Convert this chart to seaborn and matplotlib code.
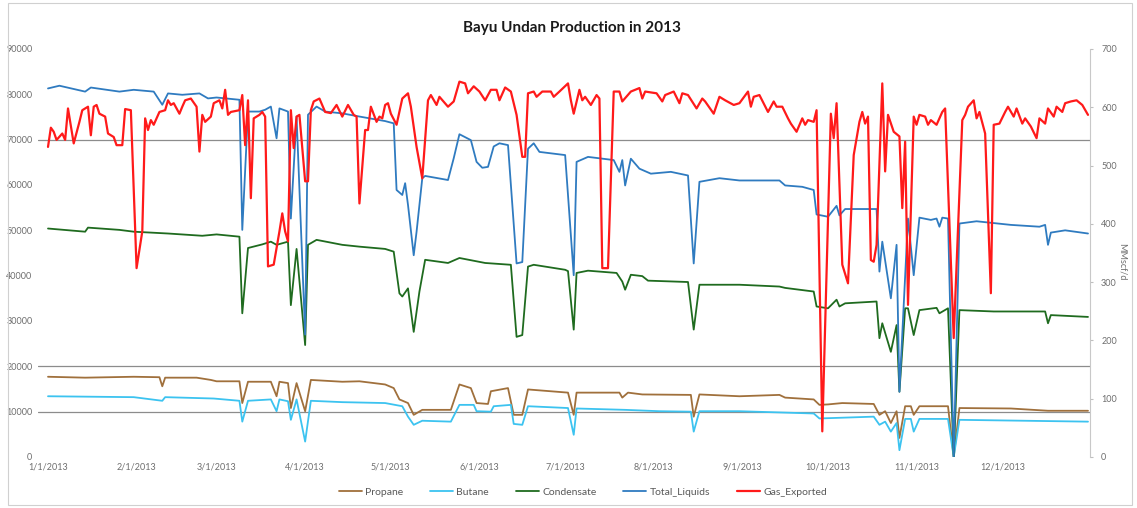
import numpy as np
import pandas as pd
import seaborn as sns
import matplotlib.pyplot as plt
from matplotlib.patches import Rectangle

# Daily production (day of year 2013, values)
# liquids in thousand bbl/d on the left axis, gas in MMscf/d on the right axis
start = pd.Timestamp("2013-01-01")

propane_days = [0, 13, 30, 39, 40, 41, 52, 57, 59, 67, 68, 70, 78, 80, 81, 84, 85, 87, 90, 92,
                103, 109, 118, 121, 123, 126, 128, 131, 141, 144, 148, 150, 154, 155, 161, 163,
                166, 168, 182, 184, 185, 200, 201, 203, 208, 225, 226, 228, 242, 256, 258, 268,
                270, 273, 278, 289, 291, 293, 295, 297, 298, 300, 302, 303, 305, 315, 317, 319,
                337, 350, 364]
propane_k = [17.7, 17.5, 17.7, 17.6, 15.6, 17.5, 17.5, 17.0, 16.7, 16.7, 11.9, 16.6, 16.6, 13.4,
             16.6, 16.3, 10.8, 16.3, 10.1, 17.0, 16.6, 16.7, 16.0, 15.2, 12.7, 11.9, 9.3, 10.4,
             10.4, 16.0, 15.2, 11.9, 11.7, 14.5, 15.2, 9.3, 9.3, 14.9, 14.2, 9.3, 14.2, 14.2,
             13.1, 14.2, 13.8, 13.7, 8.9, 13.8, 13.4, 13.7, 13.1, 12.7, 11.5, 11.6, 11.9, 11.7,
             9.3, 10.1, 7.5, 10.1, 4.2, 11.2, 11.2, 9.3, 11.2, 11.2, 0.0, 10.8, 10.7, 10.2, 10.2]

butane_days = [0, 30, 40, 41, 58, 67, 68, 70, 78, 80, 81, 84, 85, 87, 90, 92, 103, 118, 124, 126,
               128, 131, 141, 144, 149, 150, 155, 156, 162, 163, 166, 168, 182, 184, 185, 202,
               214, 225, 226, 228, 242, 268, 270, 289, 291, 293, 295, 297, 298, 300, 302, 303,
               305, 315, 317, 319, 364]
butane_k = [13.4, 13.2, 12.4, 13.2, 12.9, 12.4, 7.8, 12.4, 12.7, 10.1, 12.7, 12.3, 8.2, 12.7, 3.4,
            12.4, 12.1, 11.9, 11.2, 8.9, 7.1, 8.0, 7.8, 11.5, 11.5, 10.1, 10.0, 11.2, 11.5, 7.3,
            7.1, 11.2, 10.8, 4.9, 10.7, 10.4, 10.1, 10.0, 5.6, 10.1, 10.1, 9.6, 8.5, 8.9, 7.1,
            7.8, 5.6, 7.5, 1.5, 8.4, 8.4, 5.6, 8.4, 8.4, 0.0, 8.2, 7.8]

condensate_days = [0, 13, 14, 25, 30, 42, 54, 59, 67, 68, 70, 75, 78, 80, 84, 85, 87, 90, 91, 94,
                   103, 109, 118, 121, 123, 124, 126, 128, 130, 132, 140, 144, 153, 162, 164,
                   166, 168, 170, 181, 182, 184, 185, 189, 199, 201, 202, 204, 208, 210, 224,
                   226, 228, 242, 256, 258, 268, 269, 273, 276, 277, 279, 290, 291, 292, 295,
                   297, 298, 300, 301, 303, 305, 311, 312, 315, 317, 319, 331, 349, 350, 351, 364]
condensate_k = [50.4, 49.7, 50.6, 50.1, 49.7, 49.3, 48.8, 49.1, 48.6, 31.7, 46.1, 46.9, 47.5, 46.8,
                47.5, 33.5, 45.9, 24.7, 46.8, 47.9, 46.8, 46.4, 45.9, 45.3, 36.1, 35.4, 37.2, 27.6,
                36.5, 43.5, 42.8, 43.9, 42.8, 42.4, 26.5, 26.9, 42.0, 42.4, 41.3, 41.0, 28.1, 40.6,
                41.1, 40.6, 38.7, 36.9, 40.2, 39.9, 38.9, 38.6, 28.1, 38.0, 38.0, 37.6, 37.3, 36.5,
                33.2, 32.8, 34.7, 33.2, 33.9, 34.3, 26.2, 29.5, 23.2, 29.1, 14.4, 32.8, 32.8, 26.9,
                32.4, 32.9, 31.7, 32.8, 0.0, 32.4, 32.1, 32.1, 29.5, 31.3, 30.9]

liquids_days = [0, 4, 13, 15, 25, 30, 37, 40, 42, 47, 53, 56, 59, 67, 68, 70, 74, 76, 78, 80, 81,
                84, 85, 87, 90, 91, 94, 97, 103, 109, 118, 121, 122, 124, 125, 126, 128, 129,
                131, 132, 140, 142, 144, 148, 150, 152, 154, 156, 158, 161, 164, 166, 168, 170,
                172, 181, 184, 185, 189, 198, 200, 201, 202, 204, 207, 211, 218, 224, 226, 228,
                235, 242, 245, 256, 258, 264, 268, 269, 273, 276, 277, 279, 290, 291, 292, 295,
                297, 298, 301, 303, 305, 309, 311, 312, 313, 315, 317, 319, 325, 337, 347, 349,
                350, 351, 356, 364]
liquids_k = [81.3, 81.9, 80.6, 81.5, 80.6, 81.0, 80.6, 77.7, 80.2, 79.9, 80.2, 79.1, 79.3, 78.8,
             50.1, 76.2, 76.2, 76.6, 77.3, 70.3, 76.9, 76.2, 52.6, 75.1, 27.0, 75.5, 77.3, 76.2,
             75.8, 75.1, 74.1, 73.6, 58.9, 57.8, 60.4, 55.6, 44.5, 49.7, 61.5, 62.0, 61.1, 65.9,
             71.2, 69.9, 65.1, 63.8, 64.0, 68.5, 69.2, 68.8, 42.7, 43.0, 68.0, 69.2, 67.3, 66.6,
             40.1, 65.1, 66.2, 65.5, 62.9, 65.5, 59.9, 65.8, 63.6, 62.5, 62.9, 62.1, 42.7, 60.7,
             61.5, 61.0, 61.0, 61.0, 59.9, 59.6, 58.9, 53.5, 53.0, 55.4, 53.3, 54.7, 54.7, 40.9,
             47.5, 35.0, 46.8, 14.4, 52.6, 40.1, 52.8, 52.3, 52.6, 50.8, 52.8, 52.6, 0.0, 51.5,
             52.0, 51.2, 50.8, 51.2, 46.8, 49.5, 50.0, 49.3]

gas_days = [0, 1, 2, 3, 5, 6, 7, 9, 11, 12, 14, 15, 16, 17, 18, 20, 21, 23, 24, 26, 27, 29, 31, 33,
            34, 35, 36, 37, 39, 41, 42, 43, 44, 46, 47, 48, 50, 52, 53, 54, 55, 57, 58, 60, 61,
            62, 63, 64, 67, 68, 69, 70, 71, 72, 74, 75, 76, 77, 79, 81, 82, 83, 84, 85, 86, 87,
            88, 90, 91, 92, 93, 95, 97, 99, 101, 103, 105, 107, 108, 109, 111, 112, 113, 115,
            116, 117, 118, 119, 120, 122, 124, 126, 127, 129, 131, 133, 134, 136, 137, 140, 142,
            144, 146, 147, 149, 151, 153, 155, 157, 158, 160, 162, 164, 166, 167, 168, 170, 171,
            173, 176, 177, 179, 182, 183, 184, 186, 187, 188, 190, 192, 193, 194, 196, 198, 200,
            201, 204, 207, 208, 209, 213, 215, 216, 219, 221, 222, 224, 227, 229, 230, 233, 235,
            237, 240, 242, 245, 246, 247, 249, 252, 254, 255, 257, 259, 260, 262, 264, 265, 266,
            268, 269, 271, 274, 275, 276, 278, 280, 282, 284, 285, 286, 287, 288, 289, 290, 292,
            293, 294, 296, 298, 299, 300, 301, 303, 304, 305, 307, 308, 309, 311, 313, 314, 317,
            320, 321, 322, 324, 325, 326, 328, 330, 331, 333, 335, 336, 338, 339, 341, 342, 344,
            346, 347, 349, 350, 352, 353, 355, 356, 358, 360, 362, 364]
gas_mmscfd = [532, 565, 558, 544, 555, 544, 598, 538, 575, 595, 601, 552, 601, 604, 589, 584, 555,
              549, 535, 535, 597, 595, 324, 387, 581, 561, 578, 570, 592, 595, 612, 604, 607, 589,
              601, 612, 615, 601, 524, 587, 575, 584, 607, 612, 598, 630, 587, 592, 595, 621, 535,
              612, 444, 581, 587, 592, 584, 327, 330, 387, 418, 387, 370, 595, 530, 584, 587, 473,
              473, 595, 610, 615, 592, 590, 604, 584, 604, 587, 584, 435, 561, 561, 601, 575, 584,
              581, 604, 607, 589, 570, 615, 624, 601, 532, 478, 612, 621, 604, 618, 601, 610, 644,
              641, 624, 636, 627, 612, 630, 630, 612, 634, 627, 587, 515, 515, 624, 627, 618, 627,
              627, 618, 627, 641, 612, 589, 630, 612, 618, 604, 621, 615, 324, 324, 627, 627, 610,
              627, 633, 615, 627, 624, 610, 621, 627, 607, 624, 621, 598, 615, 610, 589, 618, 612,
              604, 607, 627, 601, 618, 621, 592, 610, 601, 601, 581, 572, 558, 581, 570, 578, 575,
              595, 44, 589, 547, 607, 330, 298, 518, 575, 592, 572, 584, 338, 335, 364, 641, 490,
              587, 558, 550, 427, 541, 261, 584, 570, 587, 584, 570, 578, 570, 592, 598, 204, 578,
              587, 601, 612, 581, 592, 555, 281, 570, 572, 592, 601, 584, 598, 572, 581, 567, 547,
              581, 572, 598, 584, 601, 592, 607, 610, 612, 604, 587]

month_labels = ["1/1/2013", "2/1/2013", "3/1/2013", "4/1/2013", "5/1/2013", "6/1/2013",
                "7/1/2013", "8/1/2013", "9/1/2013", "10/1/2013", "11/1/2013", "12/1/2013"]
left_ticks = [0, 10000, 20000, 30000, 40000, 50000, 60000, 70000, 80000, 90000]
right_ticks = [0, 100, 200, 300, 400, 500, 600, 700]
grid_levels = [10000, 20000, 70000]


def frame(days, vals, scale):
    return pd.DataFrame({"date": start + pd.to_timedelta(days, unit="D"),
                         "value": np.asarray(vals, dtype=float) * scale})


sns.set_style("white")
plt.rcParams["font.family"] = ["Lato", "DejaVu Sans"]

fig = plt.figure(figsize=(11.37, 5.08), dpi=100)
ax = fig.add_axes([38 / 1137, 1 - 457 / 508, (1090 - 38) / 1137, (457 - 49) / 508])
ax2 = ax.twinx()

for lvl in grid_levels:
    ax.axhline(lvl, color="#8c8c8c", lw=0.9, zorder=0)

liquid_series = [
    ("Propane", propane_days, propane_k, "#a0703c"),
    ("Butane", butane_days, butane_k, "#3cc3f0"),
    ("Condensate", condensate_days, condensate_k, "#1f6b1f"),
    ("Total_Liquids", liquids_days, liquids_k, "#2f7bc0"),
]
for name, d, v, c in liquid_series:
    sns.lineplot(data=frame(d, v, 1000), x="date", y="value", ax=ax, color=c,
                 linewidth=1.3, label=name)
sns.lineplot(data=frame(gas_days, gas_mmscfd, 1), x="date", y="value", ax=ax2,
             color="#ff1a1a", linewidth=1.6, label="Gas_Exported")

ax.set_xlim(start - pd.Timedelta(days=3.5), start + pd.Timedelta(days=364.7))
ax.set_ylim(0, 90000)
ax2.set_ylim(0, 700)

month_ticks = pd.date_range("2013-01-01", periods=12, freq="MS")
ax.set_xticks(month_ticks)
ax.set_xticklabels(month_labels)
ax.set_yticks(left_ticks)
ax.set_yticklabels([str(t) for t in left_ticks])
ax2.set_yticks(right_ticks)
ax2.set_yticklabels([str(t) for t in right_ticks])

tick_col = "#6e6e6e"
ax.tick_params(axis="x", length=0, labelsize=6.5, labelcolor=tick_col, pad=4)
ax.tick_params(axis="y", length=0, labelsize=6.5, labelcolor=tick_col, pad=4)
ax2.tick_params(axis="y", length=2, color="#bfbfbf", labelsize=6.5, labelcolor=tick_col, pad=6)
ax.set_xlabel("")
ax.set_ylabel("")
ax2.set_xlabel("")
ax2.set_ylabel("")
fig.text(1122 / 1137, 1 - 262 / 508, "MMscf/d", rotation=270, ha="center", va="center",
         fontsize=6.5, color=tick_col)

for a in (ax, ax2):
    for s in a.spines.values():
        s.set_visible(False)
ax2.spines["right"].set_visible(True)
ax2.spines["right"].set_color("#c8c8c8")
ax2.spines["right"].set_linewidth(0.8)

h1, l1 = ax.get_legend_handles_labels()
h2, l2 = ax2.get_legend_handles_labels()
ax.get_legend().remove()
ax2.get_legend().remove()
leg = fig.legend(h1 + h2, l1 + l2, loc="center", bbox_to_anchor=(583 / 1137, 1 - 492 / 508),
                 ncol=5, frameon=False, fontsize=7.5, handlelength=2.2, columnspacing=2.6,
                 handletextpad=0.3)
for t in leg.get_texts():
    t.set_color("#595959")

fig.text(572 / 1137, 1 - 28 / 508, "Bayu Undan Production in 2013", ha="center", va="center",
         fontsize=11, fontweight="bold", color="#1a1a1a")

fig.patches.append(Rectangle((8 / 1137, 3 / 508), 1124 / 1137, 502 / 508, transform=fig.transFigure,
                             fill=False, edgecolor="#d0d0d0", linewidth=0.8))

fig.savefig("out.png", dpi=100)
